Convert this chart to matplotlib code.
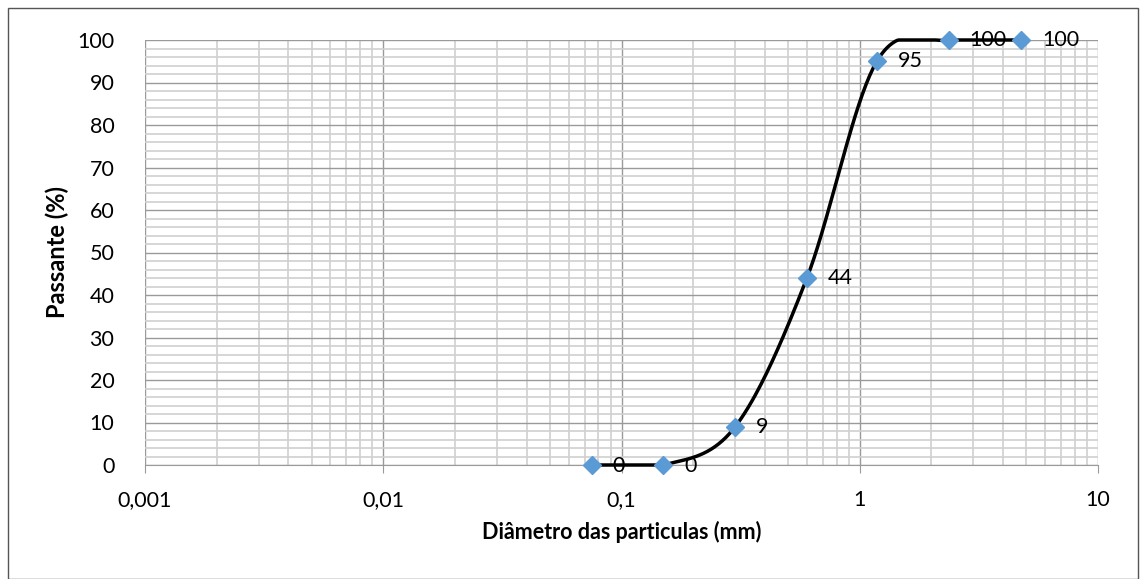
import numpy as np
import matplotlib.pyplot as plt
from matplotlib.patches import Rectangle
from matplotlib.ticker import FixedLocator, MultipleLocator, NullFormatter

plt.rcParams['font.family'] = ['Lato', 'DejaVu Sans']

diametros = [0.075, 0.15, 0.3, 0.6, 1.18, 2.36, 4.75]
passante = [0, 0, 9, 44, 95, 100, 100]
xticks = [0.001, 0.01, 0.1, 1, 10]
xtick_labels = ["0,001", "0,01", "0,1", "1", "10"]


def suavizar(xs, ys, n=40):
    # curva suavizada tipo Excel (Catmull-Rom em log10(x))
    px = np.log10(xs)
    py = np.asarray(ys, dtype=float)
    px = np.concatenate([[px[0]], px, [px[-1]]])
    py = np.concatenate([[py[0]], py, [py[-1]]])
    out_x, out_y = [], []
    for i in range(1, len(px) - 2):
        p0, p1, p2, p3 = [np.array([px[j], py[j]]) for j in (i - 1, i, i + 1, i + 2)]
        c1 = p1 + (p2 - p0) / 6
        c2 = p2 - (p3 - p1) / 6
        t = np.linspace(0, 1, n)[:, None]
        b = ((1 - t) ** 3) * p1 + 3 * ((1 - t) ** 2) * t * c1 + 3 * (1 - t) * t ** 2 * c2 + t ** 3 * p2
        out_x.extend(b[:, 0])
        out_y.extend(b[:, 1])
    return 10 ** np.array(out_x), np.array(out_y)


fig = plt.figure(figsize=(11.4, 5.79), dpi=100)
fig.patches.append(Rectangle((8 / 1140, 0), 1 - 10 / 1140, 1 - 8 / 579, transform=fig.transFigure,
                             fill=False, edgecolor="#555555", linewidth=1))
ax = fig.add_axes([145 / 1140, 1 - 465 / 579, 953 / 1140, 425 / 579])

ax.set_xscale("log")
ax.set_xlim(0.001, 10)
ax.set_ylim(0, 100)

ax.xaxis.set_major_locator(FixedLocator(xticks))
ax.set_xticklabels(xtick_labels)
minors = [m * 10.0 ** e for e in range(-3, 1) for m in range(2, 10)]
ax.xaxis.set_minor_locator(FixedLocator(minors))
ax.xaxis.set_minor_formatter(NullFormatter())
ax.yaxis.set_major_locator(MultipleLocator(10))
ax.yaxis.set_minor_locator(MultipleLocator(2))

ax.grid(which="minor", color="#d0d0d0", linewidth=1.2)
ax.grid(which="major", color="#9a9a9a", linewidth=1.0)
ax.set_axisbelow(True)

for s in ["top", "right", "left"]:
    ax.spines[s].set_visible(False)
ax.spines["bottom"].set_color("#9a9a9a")
ax.tick_params(axis="x", which="major", direction="out", length=6, color="#9a9a9a",
               labelsize=15.5, pad=12)
ax.tick_params(axis="x", which="minor", length=0)
ax.tick_params(axis="y", which="both", length=0, labelsize=15.5, pad=22)

cx, cy = suavizar(diametros, passante)
cy = np.clip(cy, 0, 100)
ax.plot(cx, cy, color="black", linewidth=2.5, zorder=3, clip_on=False)
ax.plot(diametros, passante, linestyle="none", marker="D", markersize=9.5,
        color="#5b9bd5", zorder=4, clip_on=False)

for x, y in zip(diametros, passante):
    ax.annotate(str(y), (x, y), xytext=(15, -1 if y == 0 else 0), textcoords="offset points",
                ha="left", va="center", fontsize=15.5, zorder=5, annotation_clip=False)

ax.set_xlabel("Diâmetro das particulas (mm)", fontsize=15.5, fontweight="bold", labelpad=8)
ax.set_ylabel("Passante (%)", fontsize=17, fontweight="bold", labelpad=6)

fig.savefig("out.png", dpi=100)
